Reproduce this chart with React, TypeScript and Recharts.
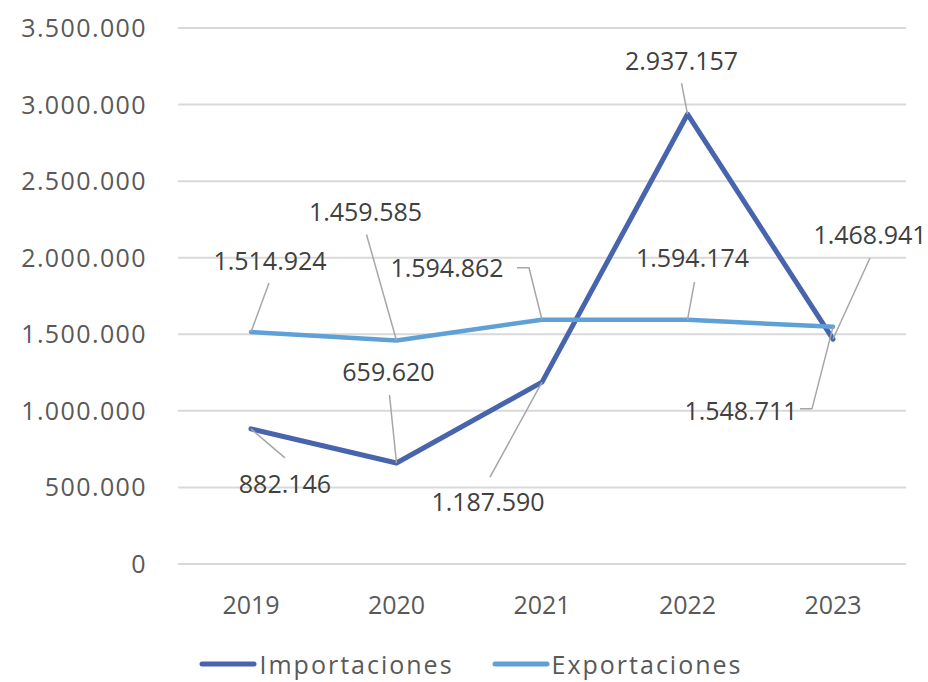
import React from 'react';
import { LineChart, Line, XAxis, YAxis, CartesianGrid, Legend, LabelList } from 'recharts';

const years = ['2019', '2020', '2021', '2022', '2023'];
const importaciones = [882146, 659620, 1187590, 2937157, 1468941];
const exportaciones = [1514924, 1459585, 1594862, 1594174, 1548711];
const yTicks = [0, 500000, 1000000, 1500000, 2000000, 2500000, 3000000, 3500000];
const seriesNames = ['Importaciones', 'Exportaciones'];

const data = years.map((year, i) => ({
  year,
  imp: importaciones[i],
  exp: exportaciones[i],
}));

// label placement (text centre offset from point and leader path, in px)
const impLayout = [
  { dx: 34, dy: 55, path: [[34, 29]] },
  { dx: -8, dy: -91, path: [[-7, -68]] },
  { dx: -54, dy: 120, path: [[-52, 95]] },
  { dx: -6, dy: -53, path: [[-6, -31]] },
  { dx: 37, dy: -104, path: [[37, -81]] },
];
const expLayout = [
  { dx: 19, dy: -71, path: [[18, -49]] },
  { dx: -31, dy: -128, path: [[-30, -106]] },
  { dx: -95, dy: -52, path: [[-13, -52], [-25, -52]] },
  { dx: 5, dy: -62, path: [[7, -38]] },
  { dx: -92, dy: 84, path: [[-21, 82], [-33, 82]] },
];

const FONT = '"Open Sans", sans-serif';
const IMP_COLOR = '#4764AD';
const EXP_COLOR = '#5FA0D6';
const TEXT_COLOR = '#595959';
const LABEL_COLOR = '#404040';

const fmt = (v: number) => String(v).replace(/\B(?=(\d{3})+(?!\d))/g, '.');

const makeLabel = (layout: any[], values: number[]) => (props: any) => {
  const { x, y, value } = props;
  let index = props.index;
  if (index === undefined || index === null) index = values.indexOf(value);
  const l = layout[index];
  if (!l || x == null || y == null) return null;
  const pts = [[0, 0], ...l.path].map(([a, b]) => `${x + a},${y + b}`).join(' ');
  return (
    <g>
      <polyline points={pts} fill="none" stroke="#A6A6A6" strokeWidth={1.5} />
      <text
        x={x + l.dx}
        y={y + l.dy}
        dy="0.36em"
        textAnchor="middle"
        fontFamily={FONT}
        fontSize={25}
        fill={LABEL_COLOR}
      >
        {fmt(value)}
      </text>
    </g>
  );
};

const YTick = (props: any) => {
  const { y, payload } = props;
  return (
    <text x={147} y={y} dy="0.36em" textAnchor="end" fontFamily={FONT} fontSize={25} letterSpacing={1.4} fill={TEXT_COLOR}>
      {fmt(payload.value)}
    </text>
  );
};

const XTick = (props: any) => {
  const { x, payload } = props;
  return (
    <text x={x} y={605} dy="0.36em" textAnchor="middle" fontFamily={FONT} fontSize={25} fill={TEXT_COLOR}>
      {payload.value}
    </text>
  );
};

const renderLegend = () => (
  <div
    style={{
      display: 'flex',
      justifyContent: 'center',
      gap: 38,
      paddingLeft: 14,
      fontFamily: FONT,
      fontSize: 25,
      letterSpacing: 2,
      color: TEXT_COLOR,
      lineHeight: '30px',
      height: 30,
      whiteSpace: 'nowrap',
    }}
  >
    {seriesNames.map((name, i) => (
      <div key={name} style={{ display: 'flex', alignItems: 'center' }}>
        <svg width={58} height={10}>
          <line x1={3} y1={5} x2={55} y2={5} stroke={i === 0 ? IMP_COLOR : EXP_COLOR} strokeWidth={5} strokeLinecap="round" />
        </svg>
        <span style={{ marginLeft: 2 }}>{name}</span>
      </div>
    ))}
  </div>
);

export default function App() {
  return (
    <div style={{ position: 'absolute', left: 0, top: 0, width: 928, height: 682, background: '#fff' }}>
      <LineChart width={928} height={682} data={data} margin={{ top: 28, right: 22, left: 0, bottom: 0 }}>
        <CartesianGrid vertical={false} stroke="#D9D9D9" strokeWidth={2} />
        <XAxis
          dataKey="year"
          height={118}
          padding={{ left: 73, right: 73 }}
          axisLine={{ stroke: '#D9D9D9', strokeWidth: 2 }}
          tickLine={false}
          tick={<XTick />}
          interval={0}
        />
        <YAxis
          width={178}
          domain={[0, 3500000]}
          ticks={yTicks}
          axisLine={false}
          tickLine={false}
          tick={<YTick />}
          interval={0}
        />
        <Legend
          layout="horizontal"
          verticalAlign="middle"
          align="center"
          content={renderLegend}
          wrapperStyle={{ position: 'absolute', top: 649, left: 0, width: 928, height: 30 }}
        />
        <Line
          type="linear"
          dataKey="imp"
          name={seriesNames[0]}
          stroke={IMP_COLOR}
          strokeWidth={5}
          strokeLinecap="round"
          strokeLinejoin="round"
          dot={false}
          activeDot={false}
          isAnimationActive={false}
        >
          <LabelList dataKey="imp" content={makeLabel(impLayout, importaciones)} />
        </Line>
        <Line
          type="linear"
          dataKey="exp"
          name={seriesNames[1]}
          stroke={EXP_COLOR}
          strokeWidth={4.5}
          strokeLinecap="round"
          strokeLinejoin="round"
          dot={false}
          activeDot={false}
          isAnimationActive={false}
        >
          <LabelList dataKey="exp" content={makeLabel(expLayout, exportaciones)} />
        </Line>
      </LineChart>
    </div>
  );
}
